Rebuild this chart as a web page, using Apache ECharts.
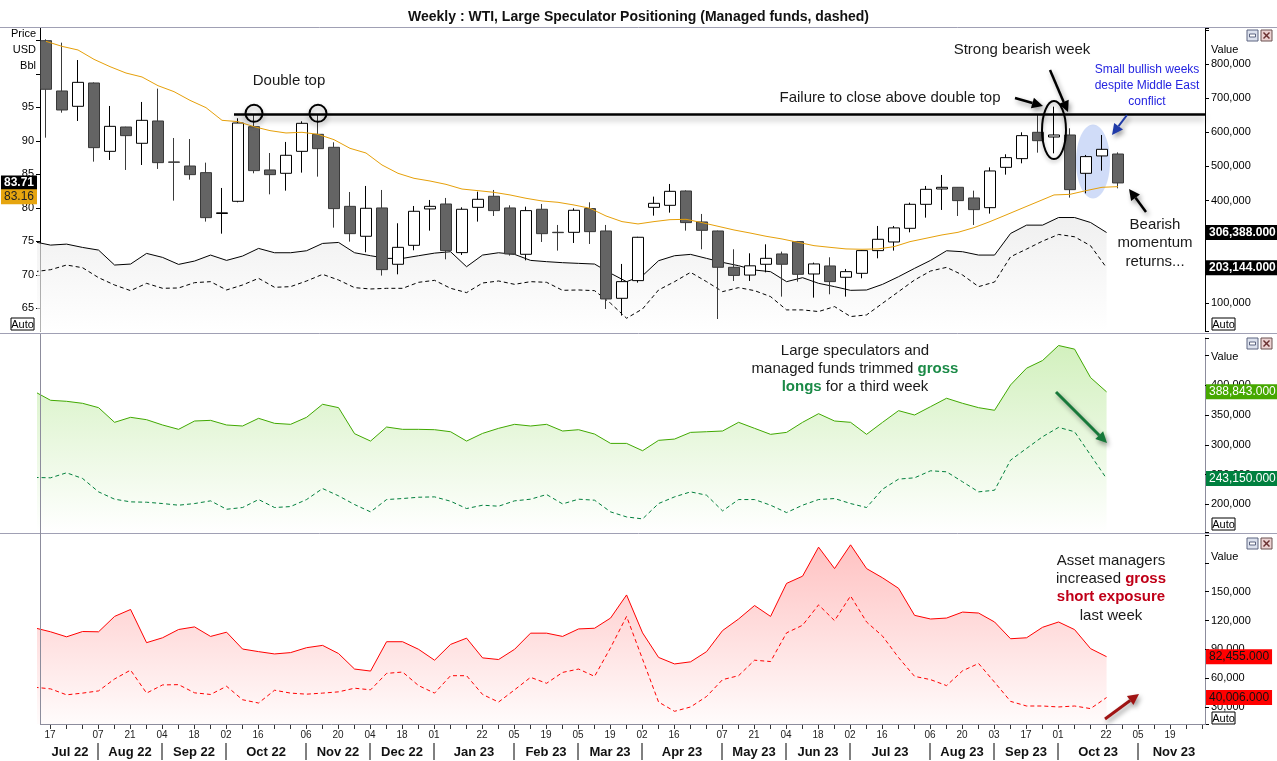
<!DOCTYPE html>
<html>
<head>
<meta charset="utf-8">
<title>Weekly : WTI, Large Speculator Positioning</title>
<script src="https://cdn.jsdelivr.net/npm/echarts@6.0.0/dist/echarts.min.js"></script>
<style>
html, body { margin: 0; padding: 0; background: #fff; }
#main { width: 1277px; height: 761px; }
</style>
</head>
<body>
<div id="main"></div>
<script>
// weekly bars, Sunday dates
var weeks = [
  '2022-07-17','2022-07-24','2022-07-31','2022-08-07','2022-08-14','2022-08-21','2022-08-28',
  '2022-09-04','2022-09-11','2022-09-18','2022-09-25','2022-10-02','2022-10-09','2022-10-16',
  '2022-10-23','2022-10-30','2022-11-06','2022-11-13','2022-11-20','2022-11-27','2022-12-04',
  '2022-12-11','2022-12-18','2022-12-25','2023-01-01','2023-01-08','2023-01-15','2023-01-22',
  '2023-01-29','2023-02-05','2023-02-12','2023-02-19','2023-02-26','2023-03-05','2023-03-12',
  '2023-03-19','2023-03-26','2023-04-02','2023-04-09','2023-04-16','2023-04-23','2023-04-30',
  '2023-05-07','2023-05-14','2023-05-21','2023-05-28','2023-06-04','2023-06-11','2023-06-18',
  '2023-06-25','2023-07-02','2023-07-09','2023-07-16','2023-07-23','2023-07-30','2023-08-06',
  '2023-08-13','2023-08-20','2023-08-27','2023-09-03','2023-09-10','2023-09-17','2023-09-24',
  '2023-10-01','2023-10-08','2023-10-15','2023-10-22','2023-10-29','2023-11-05','2023-11-12',
  '2023-11-19','2023-11-26','2023-12-03'
];
// dates that get a day number under the axis
var dayTicks = [
  '2022-07-17','2022-08-07','2022-08-21','2022-09-04','2022-09-18','2022-10-02','2022-10-16',
  '2022-11-06','2022-11-20','2022-12-04','2022-12-18','2023-01-01','2023-01-22','2023-02-05',
  '2023-02-19','2023-03-05','2023-03-19','2023-04-02','2023-04-16','2023-05-07','2023-05-21',
  '2023-06-04','2023-06-18','2023-07-02','2023-07-16','2023-08-06','2023-08-20','2023-09-03',
  '2023-09-17','2023-10-01','2023-10-22','2023-11-05','2023-11-19'
];
var monthNames = ['Jul 22','Aug 22','Sep 22','Oct 22','Nov 22','Dec 22','Jan 23','Feb 23','Mar 23',
  'Apr 23','May 23','Jun 23','Jul 23','Aug 23','Sep 23','Oct 23','Nov 23'];
// first week of each month after the first one
var monthStarts = ['2022-08-07','2022-09-04','2022-10-02','2022-11-06','2022-12-04','2023-01-01',
  '2023-02-05','2023-03-05','2023-04-02','2023-05-07','2023-06-04','2023-07-02','2023-08-06',
  '2023-09-03','2023-10-01','2023-11-05'];

// WTI weekly candles (USD/bbl)
var opens = [104.95,97.44,95.15,98.63,88.43,92.06,89.63,92.96,86.85,86.24,85.25,79.15,80.97,92.11,
  85.65,85.15,88.43,90.97,89.03,80.22,75.75,79.98,71.57,74.40,79.83,80.57,73.31,80.07,81.72,79.98,
  73.06,79.78,76.35,76.34,79.88,76.54,66.49,69.13,80.07,80.37,82.51,77.89,76.54,71.12,69.96,71.57,
  73.11,74.95,70.12,71.32,69.63,70.22,73.61,74.90,76.94,80.52,82.81,83.06,81.47,80.02,86.04,87.34,
  91.27,90.57,90.87,85.15,87.74,88.03];
var closes = [97.69,94.60,98.73,88.98,92.16,90.77,93.06,86.74,86.79,84.95,78.53,79.25,92.66,85.55,
  84.95,87.84,92.61,88.83,79.88,76.14,79.93,70.77,74.10,79.48,80.22,73.61,79.78,81.27,79.58,73.11,
  79.58,76.14,76.29,79.63,76.44,66.39,68.98,75.60,80.67,82.46,77.79,76.64,71.12,69.91,71.34,72.46,
  71.57,70.07,71.62,68.98,70.47,73.61,75.30,77.00,80.52,82.76,83.06,81.07,79.73,85.50,87.49,90.77,
  90.02,90.87,82.71,87.64,88.73,83.71];
var lows = [90.47,94.20,92.96,86.89,87.14,85.65,86.39,85.80,81.07,84.20,77.94,76.14,80.82,85.15,
  82.01,82.56,85.25,84.65,77.04,74.95,73.36,69.88,70.07,73.66,76.59,72.31,72.96,77.94,78.78,72.86,
  72.16,74.90,73.61,74.75,74.60,64.90,63.91,68.83,78.83,79.28,76.59,73.81,63.40,69.08,69.08,70.37,
  66.74,68.98,66.59,67.09,66.74,69.48,72.46,73.61,76.34,78.53,79.68,78.78,77.44,79.13,84.95,86.64,
  88.23,88.13,81.52,82.16,85.55,82.91];
var highs = [105.15,104.65,102.06,98.73,95.20,92.10,95.80,97.79,90.42,90.27,86.74,82.96,93.36,93.90,
  88.18,89.83,92.91,94.00,89.78,82.36,83.26,82.66,77.69,80.27,81.17,81.47,80.07,82.41,82.66,80.37,
  80.17,80.57,77.44,79.93,80.82,77.44,71.62,75.67,81.67,83.56,82.61,79.08,76.60,73.81,73.21,74.55,
  73.46,75.05,71.82,72.61,70.87,73.66,77.29,77.29,80.77,83.26,84.90,83.10,82.56,86.04,87.99,91.27,
  93.96,95.10,91.87,87.89,90.87,88.28];
// 20-week moving average
var ma20 = [104.85,104.10,103.56,102.16,101.07,100.12,99.53,98.23,97.34,96.04,94.95,93.06,92.86,
  92.11,91.52,91.17,91.27,90.97,90.17,88.88,88.18,86.39,85.15,84.40,84.00,83.50,82.80,82.56,82.31,
  81.92,81.42,81.02,80.82,80.42,79.93,78.78,77.94,77.59,77.94,78.23,78.28,77.79,77.24,76.69,76.24,
  75.75,75.35,74.85,74.35,74.10,73.86,73.81,73.86,74.20,74.95,75.45,75.95,76.34,77.04,77.94,78.93,
  79.93,80.92,81.92,82.01,82.56,83.06,83.16];

// double top resistance
var doubleTopLevel = 94.0;
var doubleTopFromWeek = 11.75;
var doubleTopWeeks = [13, 17];

// COT report, Tuesday of each week; the first value is the week before weeks[0]
var cotFirstWeek = -1;
var cotDayOffset = 2 / 7;
var specNet = [279000,269500,272400,262700,254900,211100,214000,245200,233500,213000,222800,240300,
  224700,237400,259800,247100,247100,253000,274400,277300,247100,238400,230600,230600,238400,246000,
  250100,206200,240300,247100,242300,224700,221000,218000,216000,214000,187000,162400,180000,223800,
  238400,242300,230600,218900,209200,196500,191600,162400,174100,157500,147800,137000,138000,154600,
  177000,201400,224700,253000,250100,240300,240300,303600,328000,328000,350300,350300,335700,306388];
var fundNet = [191600,197500,211100,203300,174100,152700,136100,157500,143000,143900,159500,162400,
  138100,152700,172200,145900,147800,164400,183800,167300,144900,141000,142900,142900,160500,166300,
  143000,130300,158500,164400,154600,162400,160500,137000,138100,136100,99100,55300,82600,138100,
  162400,189700,162400,133200,144900,136100,118600,79700,79700,74800,89400,60200,65000,99100,133200,
  167300,193600,204300,181900,147800,161400,235400,257800,281200,300700,293900,267600,203144];
var specLong = [389300,374700,373000,369600,362300,337700,346100,342100,333200,325900,339900,341000,
  333200,331500,344400,336000,334300,346100,368000,362300,318600,306200,329800,325900,325900,325300,
  321900,306200,319100,327600,334300,331500,334300,323100,325300,318000,302300,302300,290000,307400,
  309600,320800,321900,323100,337700,327600,317500,320800,337700,352200,339900,337700,317500,337700,
  357300,350000,364000,378100,369600,362300,357900,400500,428600,441500,466700,460600,412800,388843];
var fundLong = [245100,244500,252900,243400,220900,208600,204100,203500,201300,198500,201300,205800,
  191700,194600,208000,194600,196200,208000,226500,214200,199600,187300,208000,209700,211900,212500,
  205200,192900,198500,196800,205800,208600,216400,200700,208600,206900,187300,178800,175500,201300,
  212500,220900,215300,188900,208000,208000,198500,186100,198500,208000,209700,201300,194600,225400,
  242300,244500,256300,254600,237800,220900,223700,274200,293900,313500,329200,321900,282700,243150];
var specShort = [112400,108300,103100,108600,108300,124300,131500,97000,102100,110700,113400,103500,
  107900,90400,87700,85300,86700,91800,94200,85700,69600,67500,98000,98000,90100,78800,95200,101700,
  81200,79500,90100,106900,106900,103500,111300,112000,122600,146600,107200,81700,74900,77100,87700,
  109600,121600,135600,124300,158600,166100,196300,174000,198700,174000,164400,153500,125400,121600,
  122600,128800,127800,118500,101100,102100,113000,118500,110600,90800,82455];
var fundShort = [50700,49000,42800,44600,46900,59300,68500,44600,53100,53400,44900,43200,51700,37700,
  34300,47600,44600,43500,44600,45900,49700,48000,65100,66500,52400,44600,62700,62700,43200,35300,
  48000,61000,54800,66100,69600,62000,91800,124300,79800,35300,25700,30200,41100,58600,62700,78800,
  77400,107200,115100,136300,119900,145600,118500,103800,81500,62000,58600,52400,67800,75400,55900,
  36000,31200,31200,30200,31200,28500,40006];

var FONT = '"Liberation Sans", Arial, sans-serif';

function cotPoints(arr) {
  return arr.map(function (v, k) { return [cotFirstWeek + k + cotDayOffset, v]; });
}
function fmtNum(v) { return Math.round(v).toLocaleString('en-US'); }
function fmtTag(v) { return v.toLocaleString('en-US', { minimumFractionDigits: 3, maximumFractionDigits: 3 }); }

var candles = opens.map(function (o, i) { return [o, closes[i], lows[i], highs[i]]; });
var maPoints = ma20.map(function (v, i) { return [i, v]; });

function grad(c0, c1) {
  return new echarts.graphic.LinearGradient(0, 0, 0, 1, [{ offset: 0, color: c0 }, { offset: 1, color: c1 }]);
}

var gridLeft = 38, gridWidth = 1168;
var chart = echarts.init(document.getElementById('main'));

var hiddenValueX = function (grid) {
  return { type: 'value', gridIndex: grid, min: -0.5, max: 72.5, show: false };
};
var rightAxisLabel = { fontSize: 11, color: '#000', margin: 6, fontFamily: FONT };

var option = {
  animation: false,
  backgroundColor: '#fff',
  title: {
    text: 'Weekly : WTI, Large Speculator Positioning (Managed funds, dashed)',
    left: 'center', top: 5,
    textStyle: { fontSize: 14, fontWeight: 'bold', color: '#111', fontFamily: FONT }
  },
  grid: [
    { left: gridLeft, width: gridWidth, top: 28, height: 303, outerBoundsMode: 'none' },
    { left: gridLeft, width: gridWidth, top: 338, height: 194, outerBoundsMode: 'none' },
    { left: gridLeft, width: gridWidth, top: 535, height: 189, outerBoundsMode: 'none' },
    { left: gridLeft + 4, width: gridWidth, top: 535, height: 189, outerBoundsMode: 'none' }
  ],
  xAxis: [
    { type: 'category', gridIndex: 0, data: weeks, boundaryGap: true, show: false },
    hiddenValueX(0),
    hiddenValueX(1),
    hiddenValueX(2),
    {
      type: 'category', gridIndex: 3, data: weeks, boundaryGap: true, position: 'bottom',
      axisLine: { show: false },
      axisTick: { show: true, interval: 0, alignWithLabel: true, length: 5, lineStyle: { color: '#333' } },
      axisLabel: {
        interval: function (idx, val) { return dayTicks.indexOf(val) >= 0; },
        formatter: function (val) { return val.slice(8); },
        fontSize: 10, color: '#222', margin: 6, fontFamily: FONT
      },
      splitLine: { show: false }
    }
  ],
  yAxis: [
    {
      type: 'value', gridIndex: 0, position: 'left', offset: -2, min: 61.61, max: 106.84, splitNumber: 9,
      axisLine: { show: true, onZero: false, lineStyle: { color: '#000' } },
      axisTick: { show: true, length: 4, lineStyle: { color: '#000' } },
      axisLabel: {
        fontSize: 11, color: '#000', margin: 6, fontFamily: FONT, showMinLabel: false, showMaxLabel: false,
        formatter: function (v) { return (Math.abs(v - Math.round(v)) < 1e-6 && Math.round(v) % 5 === 0 && v <= 96) ? String(Math.round(v)) : ''; }
      },
      splitLine: { show: false }
    },
    {
      type: 'value', gridIndex: 0, position: 'right', offset: -1, min: 17900, max: 905400, splitNumber: 9,
      axisLine: { show: true, onZero: false, lineStyle: { color: '#000' } },
      axisTick: { show: true, length: 4, lineStyle: { color: '#000' } },
      axisLabel: Object.assign({}, rightAxisLabel, {
        formatter: function (v) { return (v % 100000 === 0 && v <= 800000) ? fmtNum(v) : ''; }
      }),
      splitLine: { show: false }
    },
    {
      type: 'value', gridIndex: 1, position: 'right', offset: -1, min: 153500, max: 479300, splitNumber: 7,
      axisLine: { show: true, onZero: false, lineStyle: { color: '#8c8c9c' } },
      axisTick: { show: true, length: 4, lineStyle: { color: '#000' } },
      axisLabel: Object.assign({}, rightAxisLabel, {
        formatter: function (v) { return (v % 50000 === 0 && v <= 400000) ? fmtNum(v) : ''; }
      }),
      splitLine: { show: false }
    },
    {
      type: 'value', gridIndex: 2, position: 'right', offset: -1, min: 12500, max: 208900, splitNumber: 7,
      axisLine: { show: true, onZero: false, lineStyle: { color: '#8c8c9c' } },
      axisTick: { show: true, length: 4, lineStyle: { color: '#000' } },
      axisLabel: Object.assign({}, rightAxisLabel, {
        formatter: function (v) { return (v % 30000 === 0 && v <= 150000) ? fmtNum(v) : ''; }
      }),
      splitLine: { show: false }
    },
    { type: 'value', gridIndex: 3, show: false }
  ],
  series: [
    {
      name: 'Large speculators net', type: 'line', xAxisIndex: 1, yAxisIndex: 1,
      data: cotPoints(specNet), symbol: 'none', z: 1,
      lineStyle: { color: '#000', width: 1 },
      areaStyle: { color: grad('#e9e9e9', '#ffffff'), origin: 'start' }
    },
    {
      name: 'Managed funds net', type: 'line', xAxisIndex: 1, yAxisIndex: 1,
      data: cotPoints(fundNet), symbol: 'none', z: 1,
      lineStyle: { color: '#000', width: 1, type: [4, 3] }
    },
    {
      name: 'WTI', type: 'candlestick', xAxisIndex: 0, yAxisIndex: 0, data: candles, barWidth: 12, z: 3,
      itemStyle: { color: '#ffffff', color0: '#646464', borderColor: '#000000', borderColor0: '#3a3a3a', borderWidth: 1 }
    },
    {
      name: 'MA 20', type: 'line', xAxisIndex: 1, yAxisIndex: 0, data: maPoints, symbol: 'none', z: 4,
      lineStyle: { color: '#e6a00a', width: 1 },
      markLine: {
        silent: true, symbol: 'none', label: { show: false },
        lineStyle: { color: '#000', width: 2.5, type: 'solid', shadowColor: 'rgba(0,0,0,0.35)', shadowBlur: 6, shadowOffsetY: 4 },
        data: [[{ coord: [doubleTopFromWeek, doubleTopLevel] }, { coord: [72.45, doubleTopLevel] }]]
      },
      markPoint: {
        silent: true, symbol: 'circle', symbolSize: 17, label: { show: false },
        itemStyle: { color: 'rgba(0,0,0,0)', borderColor: '#000', borderWidth: 2, shadowColor: 'rgba(0,0,0,0.35)', shadowBlur: 5, shadowOffsetY: 3 },
        data: doubleTopWeeks.map(function (w) { return { coord: [w, doubleTopLevel + 0.1] }; })
      }
    },
    {
      name: 'Large speculators gross long', type: 'line', xAxisIndex: 2, yAxisIndex: 2,
      data: cotPoints(specLong), symbol: 'none',
      lineStyle: { color: '#40a800', width: 1 },
      areaStyle: { color: grad('#bfeaa2', '#ffffff'), origin: 'start' }
    },
    {
      name: 'Managed funds gross long', type: 'line', xAxisIndex: 2, yAxisIndex: 2,
      data: cotPoints(fundLong), symbol: 'none',
      lineStyle: { color: '#007f3c', width: 1, type: [4, 3] }
    },
    {
      name: 'Large speculators gross short', type: 'line', xAxisIndex: 3, yAxisIndex: 3,
      data: cotPoints(specShort), symbol: 'none',
      lineStyle: { color: '#ff0000', width: 1 },
      areaStyle: { color: grad('#ffa8a8', '#fffafa'), origin: 'start' }
    },
    {
      name: 'Managed funds gross short', type: 'line', xAxisIndex: 3, yAxisIndex: 3,
      data: cotPoints(fundShort), symbol: 'none',
      lineStyle: { color: '#ff0000', width: 1, type: [4, 3] }
    }
  ]
};
chart.setOption(option);

// ---------- decorations, tags and notes ----------
var G = [];
function line(x1, y1, x2, y2, color, w, z) {
  G.push({ type: 'line', z: z || 60, silent: true, shape: { x1: x1, y1: y1, x2: x2, y2: y2 }, style: { stroke: color, lineWidth: w || 1 } });
}
function text(x, y, s, extra) {
  G.push({ type: 'text', z: 100, silent: true, style: Object.assign({ x: x, y: y, text: s, font: '15px ' + FONT, fill: '#1a1a1a', align: 'center', verticalAlign: 'middle' }, extra || {}) });
}
function tag(x, y, s, bg, fg, bold, align) {
  G.push({ type: 'text', z: 110, silent: true, style: {
    x: x, y: y, text: s, font: (bold ? 'bold ' : '') + '12px ' + FONT, fill: fg, backgroundColor: bg,
    padding: [2, 3, 1, 3], align: align || 'left', verticalAlign: 'middle' } });
}
function arrow(x1, y1, x2, y2, color, w, shadow) {
  var a = Math.atan2(y2 - y1, x2 - x1), L = 11, W = 5.5;
  var bx = x2 - L * Math.cos(a), by = y2 - L * Math.sin(a);
  var sh = shadow ? { shadowColor: 'rgba(0,0,0,0.4)', shadowBlur: 5, shadowOffsetX: 2, shadowOffsetY: 3 } : {};
  G.push({ type: 'line', z: 100, silent: true, shape: { x1: x1, y1: y1, x2: bx, y2: by }, style: Object.assign({ stroke: color, lineWidth: w }, sh) });
  G.push({ type: 'polygon', z: 100, silent: true, shape: { points: [[x2, y2], [bx + W * Math.sin(a), by - W * Math.cos(a)], [bx - W * Math.sin(a), by + W * Math.cos(a)]] }, style: Object.assign({ fill: color }, sh) });
}
function icons(y) {
  G.push({ type: 'rect', z: 100, silent: true, shape: { x: 1247, y: y, width: 11, height: 11 }, style: { fill: '#dde2ee', stroke: '#5c6480', lineWidth: 1 } });
  G.push({ type: 'rect', z: 101, silent: true, shape: { x: 1249.5, y: y + 4, width: 6, height: 3 }, style: { fill: '#fff', stroke: '#5c6480', lineWidth: 1 } });
  G.push({ type: 'rect', z: 100, silent: true, shape: { x: 1261, y: y, width: 11, height: 11 }, style: { fill: '#ecd2d2', stroke: '#6a5050', lineWidth: 1 } });
  line(1263.5, y + 2.5, 1269.5, y + 8.5, '#6a3030', 1.5, 101);
  line(1269.5, y + 2.5, 1263.5, y + 8.5, '#6a3030', 1.5, 101);
}
function autoBox(x, y) {
  G.push({ type: 'rect', z: 100, silent: true, shape: { x: x, y: y, width: 23, height: 12 }, style: { fill: '#fff', stroke: '#000', lineWidth: 1 } });
  text(x + 11.5, y + 6.5, 'Auto', { font: '11px ' + FONT, fill: '#000' });
}

var px = function (axisIdx, v) { return chart.convertToPixel({ xAxisIndex: axisIdx }, v); };
var py = function (axisIdx, v) { return chart.convertToPixel({ yAxisIndex: axisIdx }, v); };
var gridRight = gridLeft + gridWidth;

// frame
line(0, 27.5, 1277, 27.5, '#a0a0b4', 1);
line(0, 333.5, 1277, 333.5, '#a0a0b4', 1);
line(0, 533.5, 1277, 533.5, '#a0a0b4', 1);
line(40.5, 334, 40.5, 724, '#8c8c9c', 1);
line(40, 724.5, gridRight, 724.5, '#8c8c9c', 1);

// month row
var sepX = monthStarts.map(function (d) { return px(4, d); });
sepX.forEach(function (x) { line(x, 743, x, 760, '#000', 1); });
monthNames.forEach(function (m, k) {
  var x0 = k === 0 ? gridLeft + 4 : sepX[k - 1];
  var x1 = k < sepX.length ? sepX[k] : gridRight + 4;
  text((x0 + x1) / 2, 752, m, { font: 'bold 13px ' + FONT, fill: '#111' });
});

// axis captions
text(36, 34, 'Price', { font: '11px ' + FONT, fill: '#000', align: 'right' });
text(36, 50, 'USD', { font: '11px ' + FONT, fill: '#000', align: 'right' });
text(36, 66, 'Bbl', { font: '11px ' + FONT, fill: '#000', align: 'right' });
[50, 357, 557].forEach(function (y) { text(1211, y, 'Value', { font: '11px ' + FONT, fill: '#000', align: 'left' }); });
[30, 338, 538].forEach(icons);
autoBox(11, 318); autoBox(1212, 318); autoBox(1212, 518); autoBox(1212, 712);

// last value tags
var last = function (a) { return a[a.length - 1]; };
tag(37, py(0, last(closes)), last(closes).toFixed(2), '#000', '#fff', true, 'right');
tag(37, py(0, last(ma20)) + 10, last(ma20).toFixed(2), '#e6a50f', '#222', false, 'right');
tag(gridRight, py(1, last(specNet)), fmtTag(last(specNet)), '#000', '#fff', true);
tag(gridRight, py(1, last(fundNet)), fmtTag(last(fundNet)), '#000', '#fff', true);
tag(gridRight, py(2, last(specLong)), fmtTag(last(specLong)), '#46a800', '#fff', false);
tag(gridRight, py(2, last(fundLong)), fmtTag(last(fundLong)), '#00803f', '#fff', false);
tag(gridRight, py(3, last(specShort)), fmtTag(last(specShort)), '#ff0000', '#111', false);
tag(gridRight, py(3, last(fundShort)), fmtTag(last(fundShort)), '#ff0000', '#111', false);

// top panel notes
text(289, 81, 'Double top');
text(890, 98, 'Failure to close above double top');
text(1022, 50, 'Strong bearish week');
arrow(1015, 98, 1043, 106, '#000', 2.5, true);
arrow(1050, 70, 1068, 112, '#000', 2.5, true);
G.push({ type: 'ellipse', z: 90, silent: true,
  shape: { cx: px(0, weeks[63]), cy: py(0, 91.6), rx: 12, ry: 29 },
  style: { fill: 'rgba(0,0,0,0)', stroke: '#000', lineWidth: 2, shadowColor: 'rgba(0,0,0,0.3)', shadowBlur: 4, shadowOffsetY: 2 } });
G.push({ type: 'ellipse', z: 1, silent: true,
  shape: { cx: (px(0, weeks[65]) + px(0, weeks[66])) / 2 - 1, cy: py(0, 86.9), rx: 17, ry: 37 },
  style: { fill: 'rgba(150,178,240,0.45)' } });
text(1147, 70, 'Small bullish weeks', { font: '12px ' + FONT, fill: '#2424e0' });
text(1147, 86, 'despite Middle East', { font: '12px ' + FONT, fill: '#2424e0' });
text(1147, 102, 'conflict', { font: '12px ' + FONT, fill: '#2424e0' });
arrow(1127, 115, 1112, 135, '#1f3aa8', 2, true);
text(1155, 225, 'Bearish');
text(1155, 243, 'momentum');
text(1155, 262, 'returns...');
arrow(1146, 212, 1129, 189, '#000', 2.5, true);

// middle panel notes
var greenRich = { g: { font: 'bold 15px ' + FONT, fill: '#1b8a47' } };
text(855, 351, 'Large speculators and');
text(855, 369, 'managed funds trimmed {g|gross}', { rich: greenRich });
text(855, 387, '{g|longs} for a third week', { rich: greenRich });
arrow(1056, 392, 1107, 443, '#17793a', 3, true);

// bottom panel notes
var redRich = { r: { font: 'bold 15px ' + FONT, fill: '#c00018' } };
text(1111, 561, 'Asset managers');
text(1111, 579, 'increased {r|gross}', { rich: redRich });
text(1111, 597, '{r|short exposure}', { rich: redRich });
text(1111, 616, 'last week');
arrow(1105, 719, 1139, 694, '#a01414', 3, true);

chart.setOption({ graphic: G });
</script>
</body>
</html>
